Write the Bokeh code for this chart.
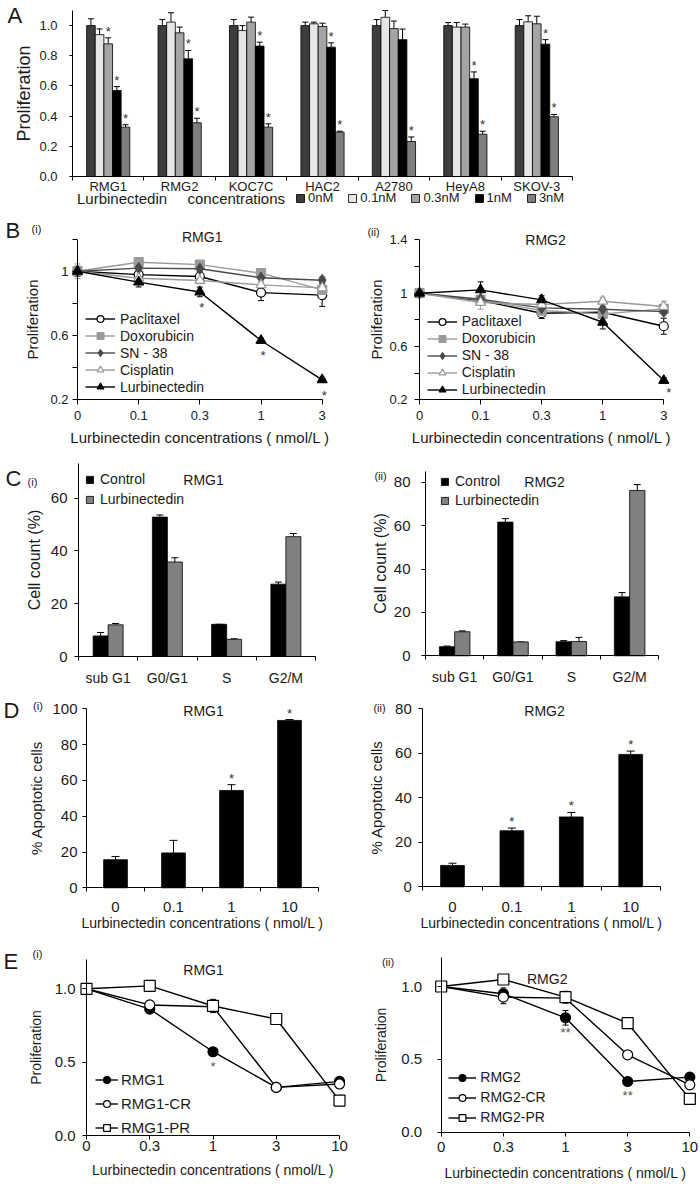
from bokeh.plotting import figure
from bokeh.models import (Range1d, FixedTicker, PrintfTickFormatter, ColumnDataSource,
                          Whisker, TeeHead, Label, Legend, LegendItem)
from bokeh.layouts import column, row
from bokeh.core.properties import value
from bokeh.embed import file_html
from bokeh.resources import INLINE

FONT = "Liberation Sans"
TXT = "#1a1a1a"

# ---------------- data: panel A ----------------
cell_lines = ["RMG1", "RMG2", "KOC7C", "HAC2", "A2780", "HeyA8", "SKOV-3"]
conc_labels = ["0nM", "0.1nM", "0.3nM", "1nM", "3nM"]
prolif_0nM = [1.00, 1.00, 1.00, 1.00, 1.00, 1.00, 1.00]
prolif_01nM = [0.94, 1.023, 0.967, 1.012, 1.055, 0.99, 1.025]
prolif_03nM = [0.879, 0.952, 1.023, 0.994, 0.98, 0.99, 1.012]
prolif_1nM = [0.57, 0.78, 0.864, 0.857, 0.907, 0.648, 0.877]
prolif_3nM = [0.327, 0.356, 0.327, 0.294, 0.232, 0.28, 0.396]
err_0nM = [0.045, 0.04, 0.04, 0.023, 0.04, 0.02, 0.04]
err_01nM = [0.038, 0.062, 0.033, 0.011, 0.045, 0.03, 0.04]
err_03nM = [0.04, 0.038, 0.033, 0.022, 0.05, 0.02, 0.05]
err_1nM = [0.026, 0.055, 0.026, 0.029, 0.07, 0.045, 0.03]
err_3nM = [0.016, 0.03, 0.022, 0.006, 0.03, 0.02, 0.015]
sig_0nM = [0, 0, 0, 0, 0, 0, 0]
sig_01nM = [0, 0, 0, 0, 0, 0, 0]
sig_03nM = [1, 0, 0, 0, 0, 0, 0]
sig_1nM = [1, 1, 1, 1, 0, 1, 1]
sig_3nM = [1, 1, 1, 1, 1, 1, 1]

# ---------------- data: panel B ----------------
b_conc = ["0", "0.1", "0.3", "1", "3"]
drugs = ["Paclitaxel", "Doxorubicin", "SN - 38", "Cisplatin", "Lurbinectedin"]
rmg1_paclitaxel = [1.0, 0.979, 0.967, 0.867, 0.851]
rmg1_doxorubicin = [1.0, 1.056, 1.041, 0.988, 0.884]
rmg1_sn38 = [1.0, 1.019, 1.015, 0.959, 0.944]
rmg1_cisplatin = [1.0, 0.956, 0.942, 0.915, 0.896]
rmg1_lurbinectedin = [1.0, 0.932, 0.871, 0.569, 0.324]
rmg1_paclitaxel_err = [0.02, 0.03, 0.03, 0.05, 0.07]
rmg1_doxorubicin_err = [0.045, 0.02, 0.01, 0.01, 0.05]
rmg1_sn38_err = [0.03, 0.01, 0.01, 0.01, 0.02]
rmg1_cisplatin_err = [0.02, 0.01, 0.02, 0.02, 0.02]
rmg1_lurbinectedin_err = [0.03, 0.03, 0.03, 0.015, 0.01]
rmg1_lurbinectedin_sig = [0, 0, 1, 1, 1]
rmg2_paclitaxel = [1.0, 0.945, 0.85, 0.857, 0.752]
rmg2_doxorubicin = [1.0, 0.95, 0.87, 0.845, 0.882]
rmg2_sn38 = [1.0, 0.955, 0.89, 0.88, 0.862]
rmg2_cisplatin = [1.0, 0.93, 0.915, 0.94, 0.9]
rmg2_lurbinectedin = [1.0, 1.025, 0.95, 0.782, 0.345]
rmg2_paclitaxel_err = [0.02, 0.03, 0.04, 0.03, 0.06]
rmg2_doxorubicin_err = [0.02, 0.02, 0.02, 0.02, 0.02]
rmg2_sn38_err = [0.03, 0.02, 0.02, 0.02, 0.02]
rmg2_cisplatin_err = [0.02, 0.05, 0.02, 0.03, 0.04]
rmg2_lurbinectedin_err = [0.02, 0.06, 0.03, 0.05, 0.02]
rmg2_lurbinectedin_sig = [0, 0, 0, 0, 1]

# ---------------- data: panel C ----------------
phases = ["sub G1", "G0/G1", "S", "G2/M"]
c_groups = ["Control", "Lurbinectedin"]
rmg1_control = [7.8, 52.8, 12.2, 27.4]
rmg1_control_err = [1.3, 0.8, 0.0, 0.8]
rmg1_lurb = [12.0, 35.8, 6.5, 45.4]
rmg1_lurb_err = [0.5, 1.6, 0.2, 1.2]
rmg2_control = [4.2, 61.7, 6.5, 27.2]
rmg2_control_err = [0.3, 1.6, 0.5, 2.0]
rmg2_lurb = [11.1, 6.4, 6.6, 76.3]
rmg2_lurb_err = [0.4, 0.0, 1.9, 2.7]

# ---------------- data: panel D ----------------
d_conc = ["0", "0.1", "1", "10"]
rmg1_apop = [15.7, 19.5, 54.4, 93.5]
rmg1_apop_err = [1.8, 7.0, 3.2, 0.5]
rmg1_apop_sig = [0, 0, 1, 1]
rmg2_apop = [9.6, 25.2, 31.4, 59.5]
rmg2_apop_err = [1.0, 1.2, 2.0, 1.5]
rmg2_apop_sig = [0, 1, 1, 1]

# ---------------- data: panel E ----------------
e_conc = ["0", "0.3", "1", "3", "10"]
e_rmg1 = [1.0, 0.862, 0.571, 0.328, 0.369]
e_rmg1_cr = [1.0, 0.89, 0.878, 0.328, 0.351]
e_rmg1_pr = [1.0, 1.02, 0.883, 0.794, 0.238]
e_rmg1_err = [0.03, 0.02, 0.01, 0.01, 0.01]
e_rmg1_cr_err = [0.02, 0.03, 0.01, 0.01, 0.01]
e_rmg1_pr_err = [0.02, 0.01, 0.045, 0.01, 0.01]
e_rmg1_sig = [0, 0, 1, 0, 0]
e_rmg2 = [1.0, 0.95, 0.785, 0.348, 0.378]
e_rmg2_cr = [1.0, 0.927, 0.92, 0.531, 0.325]
e_rmg2_pr = [1.0, 1.048, 0.927, 0.748, 0.229]
e_rmg2_err = [0.02, 0.04, 0.05, 0.025, 0.01]
e_rmg2_cr_err = [0.02, 0.045, 0.02, 0.02, 0.01]
e_rmg2_pr_err = [0.02, 0.025, 0.04, 0.01, 0.01]
e_rmg2_sig = [0, 0, 1, 1, 0]


# ---------------- helpers ----------------
class Pane:
    """A figure whose frame fills the whole canvas; axes are drawn at fixed data locations."""

    def __init__(self, L, T, W, H, x0, x0px, kx, y0, y0px, ky):
        self.L, self.T, self.W, self.H = L, T, W, H
        self.x0, self.x0px, self.kx = x0, x0px, kx
        self.y0, self.y0px, self.ky = y0, y0px, ky
        p = figure(width=W, height=H,
                   x_range=Range1d(self.X(L), self.X(L + W)),
                   y_range=Range1d(self.Y(T + H), self.Y(T)),
                   output_backend="svg", toolbar_location=None, min_border=0)
        p.outline_line_color = None
        p.xgrid.visible = False
        p.ygrid.visible = False
        p.background_fill_color = "white"
        p.border_fill_color = "white"
        self.p = p

    def X(self, px):
        return self.x0 + (px - self.x0px) / self.kx

    def Y(self, py):
        return self.y0 + (self.y0px - py) / self.ky

    def label(self, px, py, text, size, align="left"):
        self.p.add_layout(Label(x=self.X(px), y=self.Y(py), text=text, text_font=FONT,
                                text_font_size=f"{size}px", text_align=align,
                                text_baseline="middle", text_color=TXT))

    def loc(self, left_px, bottom_px):
        return (left_px - self.L, self.T + self.H - bottom_px)


def style_axis(ax, tick_size, label_size=None, tick_out=4, standoff=4, label_standoff=4):
    ax.axis_line_color = "black"
    ax.axis_line_width = 1
    ax.major_tick_line_color = "black"
    ax.major_tick_in = 0
    ax.major_tick_out = tick_out
    ax.minor_tick_line_color = None
    ax.major_label_text_font = FONT
    ax.major_label_text_font_size = f"{tick_size}px"
    ax.major_label_text_color = TXT
    ax.major_label_standoff = standoff
    ax.axis_label_text_font = FONT
    ax.axis_label_text_font_style = "normal"
    ax.axis_label_text_color = TXT
    if label_size:
        ax.axis_label_text_font_size = f"{label_size}px"
    ax.axis_label_standoff = label_standoff


def place_axes(p, x_at, ybounds, y_at, xbounds):
    p.yaxis.fixed_location = x_at
    p.yaxis.bounds = ybounds
    p.xaxis.fixed_location = y_at
    p.xaxis.bounds = xbounds


def category_xaxis(p, labels, size, standoff, label=None, label_size=None, label_standoff=0):
    n = len(labels)
    centers = [i + 0.5 for i in range(n)]
    ax = p.xaxis[0]
    ax.ticker = FixedTicker(ticks=centers, minor_ticks=list(range(n + 1)))
    ax.major_label_overrides = {c: l for c, l in zip(centers, labels)}
    style_axis(ax, size, label_size, tick_out=0, standoff=standoff, label_standoff=label_standoff)
    ax.major_tick_line_color = None
    ax.minor_tick_line_color = "black"
    ax.minor_tick_in = 0
    ax.minor_tick_out = 4
    if label:
        ax.axis_label = label


def add_stars(p, xs, ys, sigs, txt="*", baseline="bottom", yoff=0, xoff=0, size=13, color="#333333"):
    sx = [x for x, s in zip(xs, sigs) if s]
    sy = [y for y, s in zip(ys, sigs) if s]
    p.text(x=sx, y=sy, text=[txt] * len(sx), text_font=value(FONT),
           text_font_size=value(f"{size}px"), text_align="center", text_baseline=baseline,
           y_offset=yoff, x_offset=xoff, text_color=color)


def make_legend(items, loc, glyph_w, glyph_h, label_h, standoff, size, orientation="vertical", spacing=0):
    return Legend(items=items, location=loc, orientation=orientation,
                  glyph_width=glyph_w, glyph_height=glyph_h, label_height=label_h,
                  label_standoff=standoff, spacing=spacing, padding=0, margin=0,
                  label_text_font=FONT, label_text_font_size=f"{size}px",
                  label_text_color=TXT, border_line_color=None, background_fill_alpha=0)


def line_series(p, xs, series, errs, names, markers, fills, lcolors, sizes):
    items = []
    for vals, er, name, m, f, lc, s in zip(series, errs, names, markers, fills, lcolors, sizes):
        src = ColumnDataSource(dict(x=xs, y=vals,
                                    lo=[v - e for v, e in zip(vals, er)],
                                    hi=[v + e for v, e in zip(vals, er)]))
        p.add_layout(Whisker(base="x", lower="lo", upper="hi", source=src, dimension="height",
                             line_color=lc, line_width=1,
                             upper_head=TeeHead(size=6, line_color=lc, line_width=1),
                             lower_head=TeeHead(size=6, line_color=lc, line_width=1)))
        lr = p.line("x", "y", source=src, line_color=lc, line_width=1.4)
        sr = p.scatter("x", "y", source=src, marker=m, size=s, fill_color=f,
                       line_color=lc, line_width=1.2)
        items.append(LegendItem(label=name, renderers=[lr, sr]))
    return items


def bar_series(p, xs, vals, errs, width, fill, head=7):
    src = ColumnDataSource(dict(x=xs, top=vals, lo=vals,
                                hi=[v + e for v, e in zip(vals, errs)]))
    r = p.vbar(x="x", top="top", bottom=0, width=width, source=src,
               fill_color=fill, line_color="black", line_width=0.8)
    p.add_layout(Whisker(base="x", lower="lo", upper="hi", source=src, dimension="height",
                         line_color="black", line_width=1,
                         upper_head=TeeHead(size=head, line_color="black", line_width=1),
                         lower_head=None))
    return r, src.data["hi"]


# ================= Panel A =================
A_BW = 0.121
A = Pane(0, 0, 700, 206, 0, 72, 500 / 7, 0, 176, 150.9)
pA = A.p
a_vals = [prolif_0nM, prolif_01nM, prolif_03nM, prolif_1nM, prolif_3nM]
a_errs = [err_0nM, err_01nM, err_03nM, err_1nM, err_3nM]
a_sigs = [sig_0nM, sig_01nM, sig_03nM, sig_1nM, sig_3nM]
a_colors = ["#3d3d3d", "#e6e6e6", "#a4a4a4", "#000000", "#7e7e7e"]
a_items = []
for j in range(len(conc_labels)):
    xs = [i + 0.5 + (j - 2) * A_BW for i in range(len(cell_lines))]
    r, hi = bar_series(pA, xs, a_vals[j], a_errs[j], A_BW, a_colors[j], head=6)
    add_stars(pA, xs, hi, a_sigs[j], baseline="bottom", yoff=1, size=13)
    a_items.append(LegendItem(label=conc_labels[j], renderers=[r]))

pA.yaxis.ticker = FixedTicker(ticks=[0.0, 0.2, 0.4, 0.6, 0.8, 1.0])
pA.yaxis.formatter = PrintfTickFormatter(format="%.1f")
style_axis(pA.yaxis[0], 13, 18, tick_out=3, standoff=12, label_standoff=2)
pA.yaxis.axis_label = "Proliferation"
category_xaxis(pA, cell_lines, 13, -2)
place_axes(pA, 0, (0, 1.1), 0, (0, 7))
pA.add_layout(make_legend(a_items, A.loc(295, 205), 10, 10, 14, 3, 13,
                          orientation="horizontal", spacing=14))
A.label(7, 15, "A", 22)
A.label(76.5, 198, "Lurbinectedin", 15)
A.label(187, 198, "concentrations", 15)

# ================= Panel B =================
b_x = list(range(len(b_conc)))
b_markers = ["circle", "square", "diamond", "triangle", "triangle"]
b_fills = ["white", "#9a9a9a", "#4a4a4a", "white", "black"]
b_lines = ["black", "#9a9a9a", "#4a4a4a", "#9a9a9a", "black"]
b_sizes = [9, 9, 11, 10, 10]


def b_panel(pane, yr, yticks, ylabels, series, errs, sig, leg_left, leg_bottom, star_off,
            ystand, ylab_stand):
    p = pane.p
    items = line_series(p, b_x, series, errs, drugs, b_markers, b_fills, b_lines, b_sizes)
    add_stars(p, b_x, series[-1], sig, baseline="top", yoff=star_off[0], xoff=star_off[1], size=13)
    p.yaxis.ticker = FixedTicker(ticks=yticks)
    p.yaxis.major_label_overrides = dict(zip(yticks, ylabels))
    style_axis(p.yaxis[0], 13, 15, tick_out=5, standoff=ystand, label_standoff=ylab_stand)
    p.yaxis.axis_label = "Proliferation"
    p.xaxis.ticker = FixedTicker(ticks=b_x)
    p.xaxis.major_label_overrides = dict(zip(b_x, b_conc))
    style_axis(p.xaxis[0], 13, 15, tick_out=5, standoff=6, label_standoff=6)
    p.xaxis.axis_label = "Lurbinectedin concentrations ( nmol/L )"
    place_axes(p, 0, yr, yr[0], (0, 4))
    p.add_layout(make_legend(items, pane.loc(leg_left, leg_bottom), 30, 17, 17, 5, 14))
    return p


B1 = Pane(0, 206, 350, 240, 0, 77, 61.17, 1.0, 270.7, 160.75)
pB1 = b_panel(B1, (0.2, 1.2), [0.2, 0.4, 0.6, 0.8, 1.0, 1.2], ["0.2", "", "0.6", "", "1", ""],
              [rmg1_paclitaxel, rmg1_doxorubicin, rmg1_sn38, rmg1_cisplatin, rmg1_lurbinectedin],
              [rmg1_paclitaxel_err, rmg1_doxorubicin_err, rmg1_sn38_err, rmg1_cisplatin_err,
               rmg1_lurbinectedin_err],
              rmg1_lurbinectedin_sig, 85, 395, (8, 2), 4, 6)
B1.label(201.7, 236.7, "RMG1", 14, align="center")
B1.label(5, 230, "B", 22)
B1.label(36, 228, "(i)", 11, align="center")

B2 = Pane(350, 206, 350, 240, 0, 419, 61.07, 1.0, 292.7, 133.3)
pB2 = b_panel(B2, (0.2, 1.4), [0.2, 0.4, 0.6, 0.8, 1.0, 1.2, 1.4],
              ["0.2", "", "0.6", "", "1", "", "1.4"],
              [rmg2_paclitaxel, rmg2_doxorubicin, rmg2_sn38, rmg2_cisplatin, rmg2_lurbinectedin],
              [rmg2_paclitaxel_err, rmg2_doxorubicin_err, rmg2_sn38_err, rmg2_cisplatin_err,
               rmg2_lurbinectedin_err],
              rmg2_lurbinectedin_sig, 426.7, 397.6, (4, 5), 7, 1)
B2.label(545, 239.3, "RMG2", 14, align="center")
B2.label(373, 231.7, "(ii)", 11, align="center")

# ================= Panel C =================


def c_panel(pane, ymax, yticks, ctrl, ctrl_err, lurb, lurb_err, bw, ystand, ylab_stand, xstand,
            leg_left, leg_bottom, leg_h):
    p = pane.p
    xs_c = [i + 0.5 - bw / 2 for i in range(len(phases))]
    xs_l = [i + 0.5 + bw / 2 for i in range(len(phases))]
    r1, _ = bar_series(p, xs_c, ctrl, ctrl_err, bw, "black", head=7)
    r2, _ = bar_series(p, xs_l, lurb, lurb_err, bw, "#808080", head=7)
    p.yaxis.ticker = FixedTicker(ticks=yticks)
    style_axis(p.yaxis[0], 15, 16, tick_out=4, standoff=ystand, label_standoff=ylab_stand)
    p.yaxis.axis_label = "Cell count (%)"
    category_xaxis(p, phases, 14, xstand)
    place_axes(p, 0, (0, ymax), 0, (0, 4))
    items = [LegendItem(label=c_groups[0], renderers=[r1]),
             LegendItem(label=c_groups[1], renderers=[r2])]
    p.add_layout(make_legend(items, pane.loc(leg_left, leg_bottom), 9, 9, leg_h, 6, 14))
    return p


C1 = Pane(0, 446, 350, 240, 0, 78, 59.25, 0, 656, 2.64)
pC1 = c_panel(C1, 73, [0, 20, 40, 60], rmg1_control, rmg1_control_err,
              rmg1_lurb, rmg1_lurb_err, 0.253, 7, 5, 9, 85, 509, 20)
C1.label(203, 479, "RMG1", 14, align="center")
C1.label(5, 477.5, "C", 22)
C1.label(32, 481, "(i)", 11, align="center")

C2 = Pane(350, 446, 350, 240, 0, 425, 58.33, 0, 655.3, 2.167)
pC2 = c_panel(C2, 85, [0, 20, 40, 60, 80], rmg2_control, rmg2_control_err,
              rmg2_lurb, rmg2_lurb_err, 0.262, 11, 2, 9, 440, 509.5, 19)
C2.label(544, 481, "RMG2", 14, align="center")
C2.label(380, 475, "(ii)", 11, align="center")

# ================= Panel D =================


def d_panel(pane, ymax, yticks, vals, errs, sigs, bw, ystand, ylab_stand, xstand):
    p = pane.p
    xs = [i + 0.5 for i in range(len(d_conc))]
    r, hi = bar_series(p, xs, vals, errs, bw, "black", head=8)
    add_stars(p, xs, hi, sigs, baseline="bottom", yoff=1, size=13)
    p.yaxis.ticker = FixedTicker(ticks=yticks)
    style_axis(p.yaxis[0], 15, 15, tick_out=4, standoff=ystand, label_standoff=ylab_stand)
    p.yaxis.axis_label = "% Apoptotic cells"
    category_xaxis(p, d_conc, 15, xstand, label="Lurbinectedin concentrations ( nmol/L )",
                   label_size=14, label_standoff=0)
    place_axes(p, 0, (0, ymax), 0, (0, 4))
    return p


D1 = Pane(0, 686, 350, 246, 0, 86, 58, 0, 887.3, 1.79)
pD1 = d_panel(D1, 100, [0, 20, 40, 60, 80, 100], rmg1_apop, rmg1_apop_err, rmg1_apop_sig,
              0.41, 5, 4, 10)
D1.label(203, 710.7, "RMG1", 14, align="center")
D1.label(3, 710, "D", 22)
D1.label(37.5, 705, "(i)", 11, align="center")

D2 = Pane(350, 686, 350, 246, 0, 422.3, 59.4, 0, 886.3, 2.225)
pD2 = d_panel(D2, 80, [0, 20, 40, 60, 80], rmg2_apop, rmg2_apop_err, rmg2_apop_sig,
              0.40, 7, 7, 11)
D2.label(544, 710.7, "RMG2", 14, align="center")
D2.label(379, 707.3, "(ii)", 11, align="center")

# ================= Panel E =================
e_x = list(range(len(e_conc)))
e_markers = ["circle", "circle", "square"]
e_fills = ["black", "white", "white"]
e_lines = ["black", "black", "black"]
e_sizes = [10, 10, 11]


def e_panel(pane, names, series, errs, sig, star_txt, ystand, ylab_stand, xstand, xlab_stand,
            leg_left, leg_bottom, leg_gw, leg_h, leg_stand, leg_size):
    p = pane.p
    items = line_series(p, e_x, series, errs, names, e_markers, e_fills, e_lines, e_sizes)
    add_stars(p, e_x, series[0], sig, txt=star_txt, baseline="top", yoff=7, size=13, color="#555555")
    p.yaxis.ticker = FixedTicker(ticks=[0.0, 0.5, 1.0])
    p.yaxis.formatter = PrintfTickFormatter(format="%.1f")
    style_axis(p.yaxis[0], 15, 14, tick_out=4, standoff=ystand, label_standoff=ylab_stand)
    p.yaxis.axis_label = "Proliferation"
    p.xaxis.ticker = FixedTicker(ticks=e_x)
    p.xaxis.major_label_overrides = dict(zip(e_x, e_conc))
    style_axis(p.xaxis[0], 15, 14, tick_out=4, standoff=xstand, label_standoff=xlab_stand)
    p.xaxis.axis_label = "Lurbinectedin concentrations ( nmol/L )"
    place_axes(p, 0, (0, 1.2), 0, (0, 4))
    p.add_layout(make_legend(items, pane.loc(leg_left, leg_bottom), leg_gw, 17, leg_h,
                             leg_stand, leg_size))
    return p


E1 = Pane(0, 932, 350, 252, 0, 86, 63.25, 0, 1135, 146.7)
pE1 = e_panel(E1, ["RMG1", "RMG1-CR", "RMG1-PR"],
              [e_rmg1, e_rmg1_cr, e_rmg1_pr], [e_rmg1_err, e_rmg1_cr_err, e_rmg1_pr_err],
              e_rmg1_sig, "*", 7, 8, 1, 8, 95, 1139, 23, 24, 3, 15)
E1.label(203, 969, "RMG1", 14, align="center")
E1.label(3, 961, "E", 22)
E1.label(37, 953, "(i)", 11, align="center")

E2 = Pane(350, 932, 350, 252, 0, 440.7, 62.15, 0, 1131.7, 145.7)
pE2 = e_panel(E2, ["RMG2", "RMG2-CR", "RMG2-PR"],
              [e_rmg2, e_rmg2_cr, e_rmg2_pr], [e_rmg2_err, e_rmg2_cr_err, e_rmg2_pr_err],
              e_rmg2_sig, "**", 15, 10, 6, 9, 448.3, 1127.3, 28, 20, 4, 14)
E2.label(546.7, 978.3, "RMG2", 14, align="center")
E2.label(387.5, 961.7, "(ii)", 11, align="center")

layout = column(pA, row(pB1, pB2, spacing=0), row(pC1, pC2, spacing=0),
                row(pD1, pD2, spacing=0), row(pE1, pE2, spacing=0), spacing=0)

with open("out.html", "w") as f:
    f.write(file_html(layout, INLINE))
